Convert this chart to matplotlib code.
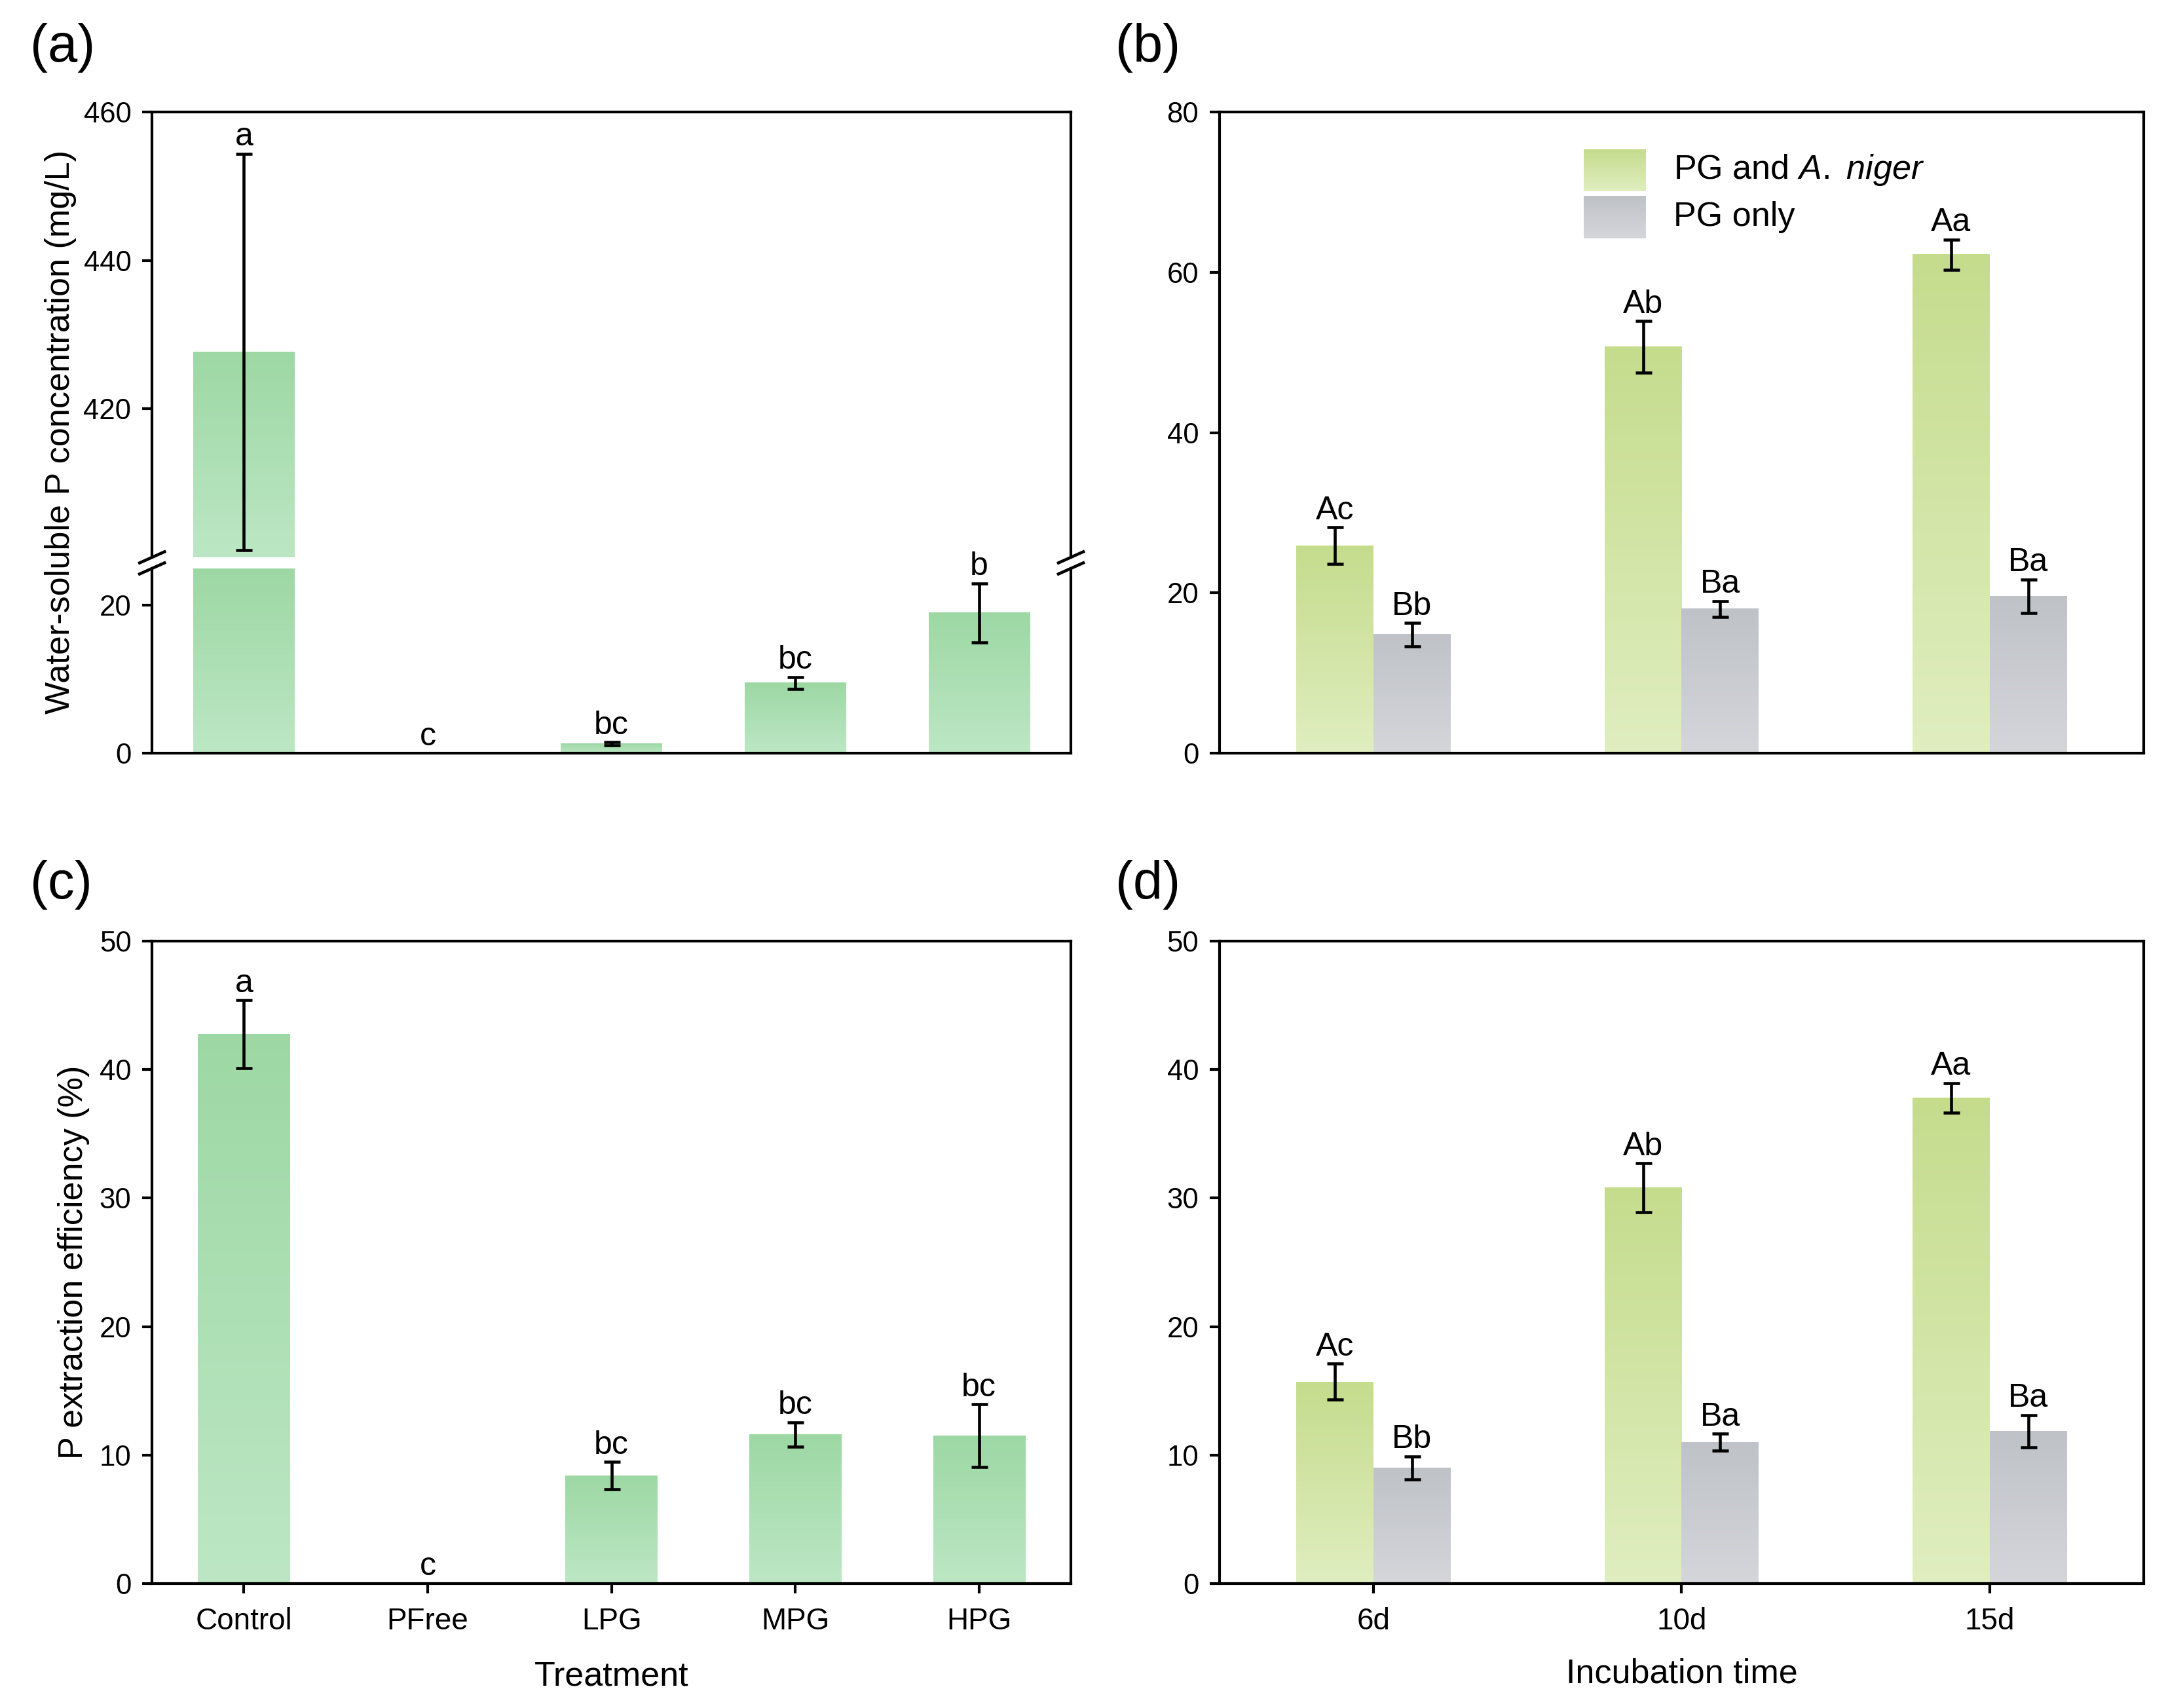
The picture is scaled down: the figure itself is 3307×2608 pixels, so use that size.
import numpy as np
import matplotlib as mpl
mpl.use('Agg')
import matplotlib.pyplot as plt
from matplotlib.colors import LinearSegmentedColormap

mpl.rcParams['font.family'] = 'Liberation Sans'
mpl.rcParams['mathtext.fontset'] = 'custom'
mpl.rcParams['mathtext.rm'] = 'Liberation Sans'
mpl.rcParams['mathtext.it'] = 'Liberation Sans:italic'
mpl.rcParams['axes.linewidth'] = 1.0

# (a) water-soluble P, (c) extraction efficiency
treatments = ['Control', 'PFree', 'LPG', 'MPG', 'HPG']
ws_p = [427.7, 0.0, 1.3, 9.5, 19.0]
ws_p_err = [26.7, 0.0, 0.2, 0.8, 4.0]
ws_p_sig = ['a', 'c', 'bc', 'bc', 'b']

eff = [42.75, 0.0, 8.4, 11.6, 11.5]
eff_err = [2.65, 0.0, 1.05, 0.95, 2.45]
eff_sig = ['a', 'c', 'bc', 'bc', 'bc']

# (b) and (d) incubation time
days = ['6d', '10d', '15d']
b_niger = [25.9, 50.7, 62.2]
b_niger_err = [2.3, 3.2, 1.9]
b_only = [14.8, 18.0, 19.6]
b_only_err = [1.45, 1.0, 2.1]
d_niger = [15.7, 30.8, 37.8]
d_niger_err = [1.4, 1.9, 1.15]
d_only = [9.0, 11.0, 11.85]
d_only_err = [0.9, 0.65, 1.25]
niger_sig = ['Ac', 'Ab', 'Aa']
only_sig = ['Bb', 'Ba', 'Ba']

series_labels = [r'PG and $\mathit{A.\ niger}$', 'PG only']

green_a = ('#9DD8A4', '#BDE7C4')   # top, bottom
green_b = ('#C5DC8D', '#E0EEC0')
gray_b = ('#BFC2C7', '#D4D6DA')

grad = np.linspace(0, 1, 256).reshape(-1, 1)


def grad_bars(ax, bars, colors, ylim):
    cmap = LinearSegmentedColormap.from_list('g', [colors[1], colors[0]])
    for p in bars:
        x0 = p.get_x()
        x1 = x0 + p.get_width()
        y0 = max(p.get_y(), ylim[0])
        y1 = min(p.get_y() + p.get_height(), ylim[1])
        if y1 <= y0:
            continue
        ax.imshow(grad, cmap=cmap, origin='lower', aspect='auto',
                  extent=[x0, x1, y0, y1], zorder=1, interpolation='bilinear')


def errs(ax, x, vals, err):
    x = np.asarray(x, float)
    vals = np.asarray(vals, float)
    err = np.asarray(err, float)
    m = err > 0
    ax.errorbar(x[m], vals[m], yerr=err[m], fmt='none', ecolor='black',
                elinewidth=1.1, capsize=3, capthick=1.1, zorder=3)


def letters(ax, x, vals, err, sig, ylim):
    for xi, v, e, s in zip(x, vals, err, sig):
        top = v + e
        if ylim[0] <= top <= ylim[1]:
            ax.annotate(s, (xi, top), xytext=(0, 0.6), textcoords='offset points',
                        ha='center', va='bottom', fontsize=12)


def style(ax, xt=False):
    ax.tick_params(axis='y', direction='out', length=3.6, width=1.0,
                   labelsize=10.5, pad=4)
    ax.tick_params(axis='x', direction='out', length=3.6, width=1.0,
                   labelsize=11, pad=5)
    if not xt:
        ax.tick_params(axis='x', bottom=False, labelbottom=False)


fig = plt.figure(figsize=(3307 / 300, 2608 / 300), dpi=300)

L1, R1 = 0.0702, 0.4944
L2, R2 = 0.5630, 0.9897
top1, bot1 = 0.9344, 0.5590
top2, bot2 = 0.4490, 0.0729
brk_hi, brk_lo = 0.6737, 0.6672

# ---- (a) broken axis
ax_up = fig.add_axes([L1, brk_hi, R1 - L1, top1 - brk_hi])
ax_lo = fig.add_axes([L1, bot1, R1 - L1, brk_lo - bot1])
xa = np.arange(len(treatments))
for ax, lim, ticks in [(ax_up, (400, 460), [420, 440, 460]), (ax_lo, (0, 25), [0, 20])]:
    bars = ax.bar(xa, ws_p, 0.55, color='none', edgecolor='none')
    grad_bars(ax, bars, green_a, lim)
    errs(ax, xa, ws_p, ws_p_err)
    letters(ax, xa, ws_p, ws_p_err, ws_p_sig, lim)
    ax.set_xlim(-0.5, 4.5)
    ax.set_ylim(*lim)
    ax.set_yticks(ticks)
    style(ax)
ax_up.spines['bottom'].set_visible(False)
ax_lo.spines['top'].set_visible(False)

W, H = 3307, 2608
dx, dy = 38 / W, 17 / H
for xs in (L1, R1):
    for ys in (brk_hi, brk_lo):
        fig.add_artist(plt.Line2D([xs - dx / 2, xs + dx / 2], [ys - dy / 2, ys + dy / 2],
                                  transform=fig.transFigure, color='black', lw=1.1,
                                  clip_on=False))

fig.text(0.028, 0.747, 'Water-soluble P concentration (mg/L)', rotation=90,
         ha='center', va='center', fontsize=12.5)

# ---- (b)
ax_b = fig.add_axes([L2, bot1, R2 - L2, top1 - bot1])
xb = np.arange(len(days))
w = 0.25
for vals, err, sig, cols, off in [(b_niger, b_niger_err, niger_sig, green_b, -w / 2),
                                  (b_only, b_only_err, only_sig, gray_b, w / 2)]:
    bars = ax_b.bar(xb + off, vals, w, color='none', edgecolor='none')
    grad_bars(ax_b, bars, cols, (0, 80))
    errs(ax_b, xb + off, vals, err)
    letters(ax_b, xb + off, vals, err, sig, (0, 80))

leg_boxes = [(0.877, 0.942), (0.803, 0.869)]
for (y0, y1), cols, lab in zip(leg_boxes, [green_b, gray_b], series_labels):
    cmap = LinearSegmentedColormap.from_list('l', [cols[1], cols[0]])
    ax_b.imshow(grad, cmap=cmap, origin='lower', aspect='auto',
                extent=[0.394, 0.461, y0, y1], transform=ax_b.transAxes, zorder=1)
    ax_b.text(0.4915, (y0 + y1) / 2, lab, transform=ax_b.transAxes,
              ha='left', va='center', fontsize=12.5)
ax_b.set_xlim(-0.5, 2.5)
ax_b.set_ylim(0, 80)
ax_b.set_yticks([0, 20, 40, 60, 80])
style(ax_b)

# ---- (c)
ax_c = fig.add_axes([L1, bot2, R1 - L1, top2 - bot2])
bars = ax_c.bar(xa, eff, 0.5, color='none', edgecolor='none')
grad_bars(ax_c, bars, green_a, (0, 50))
errs(ax_c, xa, eff, eff_err)
letters(ax_c, xa, eff, eff_err, eff_sig, (0, 50))
ax_c.set_xlim(-0.5, 4.5)
ax_c.set_ylim(0, 50)
ax_c.set_yticks(range(0, 51, 10))
ax_c.set_xticks(xa)
ax_c.set_xticklabels(treatments)
style(ax_c, xt=True)
ax_c.set_xlabel('Treatment', fontsize=12.5, labelpad=9)
ax_c.set_ylabel('P extraction efficiency (%)', fontsize=12.5)
ax_c.yaxis.set_label_coords(-0.068, 0.5)

# ---- (d)
ax_d = fig.add_axes([L2, bot2, R2 - L2, top2 - bot2])
for vals, err, sig, cols, off in [(d_niger, d_niger_err, niger_sig, green_b, -w / 2),
                                  (d_only, d_only_err, only_sig, gray_b, w / 2)]:
    bars = ax_d.bar(xb + off, vals, w, color='none', edgecolor='none')
    grad_bars(ax_d, bars, cols, (0, 50))
    errs(ax_d, xb + off, vals, err)
    letters(ax_d, xb + off, vals, err, sig, (0, 50))
ax_d.set_xlim(-0.5, 2.5)
ax_d.set_ylim(0, 50)
ax_d.set_yticks(range(0, 51, 10))
ax_d.set_xticks(xb)
ax_d.set_xticklabels(days)
style(ax_d, xt=True)
ax_d.set_xlabel('Incubation time', fontsize=12.5, labelpad=8)

for x, y, s in [(0.014, 0.972, '(a)'), (0.515, 0.972, '(b)'),
                (0.014, 0.482, '(c)'), (0.515, 0.482, '(d)')]:
    fig.text(x, y, s, ha='left', va='center', fontsize=19.5)

fig.savefig('out.png', dpi=300)
